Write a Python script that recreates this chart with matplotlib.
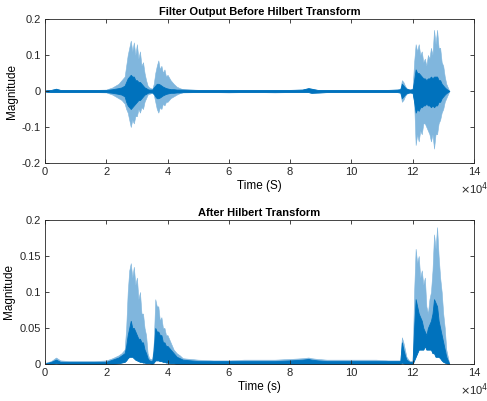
import matplotlib
matplotlib.use("Agg")
import matplotlib.pyplot as plt
import numpy as np

# sample positions (thousands of samples), shared by both panels
t_k = [0.3, 2, 3.6, 5, 8, 12, 16, 20, 22, 24,
       25, 26, 26.5, 27, 27.5, 28, 28.5, 29, 29.5, 30,
       30.5, 31, 31.5, 32, 32.5, 33, 33.5, 34, 35, 35.5,
       36, 36.5, 37, 37.5, 38, 38.5, 39, 39.5, 40, 41,
       42, 43, 44, 45, 50, 55, 60, 65, 70, 75,
       80, 84, 86, 87, 89, 92, 96, 100, 104, 108,
       112, 115, 116, 116.5, 117, 117.5, 118, 119, 120, 120.5,
       121, 121.5, 122, 122.5, 123, 123.5, 124, 124.5, 125, 125.5,
       126, 126.5, 127, 127.5, 128, 128.5, 129, 129.5, 130, 130.5,
       131, 131.5, 132]

# filter output: outer (light) and dense core (dark) envelopes
filt_outer_hi = [0.002, 0.003, 0.007, 0.003, 0.003, 0.003, 0.003, 0.004, 0.01, 0.02,
                 0.03, 0.04, 0.07, 0.10, 0.12, 0.14, 0.11, 0.135, 0.10, 0.13,
                 0.09, 0.11, 0.07, 0.08, 0.05, 0.03, 0.015, 0.01, 0.006, 0.02,
                 0.05, 0.07, 0.085, 0.06, 0.07, 0.05, 0.06, 0.04, 0.045, 0.03,
                 0.02, 0.012, 0.008, 0.005, 0.003, 0.003, 0.003, 0.003, 0.003, 0.003,
                 0.003, 0.004, 0.008, 0.007, 0.003, 0.003, 0.003, 0.003, 0.003, 0.003,
                 0.003, 0.004, 0.005, 0.03, 0.025, 0.015, 0.008, 0.004, 0.005, 0.08,
                 0.13, 0.11, 0.13, 0.10, 0.11, 0.08, 0.09, 0.07, 0.10, 0.09,
                 0.12, 0.10, 0.17, 0.13, 0.17, 0.12, 0.12, 0.08, 0.07, 0.04,
                 0.02, 0.01, 0.0]
filt_outer_lo = [-0.002, -0.003, -0.003, -0.003, -0.003, -0.003, -0.003, -0.004, -0.01, -0.02,
                 -0.025, -0.035, -0.05, -0.06, -0.08, -0.10, -0.08, -0.09, -0.07, -0.07,
                 -0.05, -0.06, -0.045, -0.05, -0.03, -0.02, -0.01, -0.008, -0.005, -0.01,
                 -0.03, -0.05, -0.06, -0.045, -0.05, -0.035, -0.04, -0.03, -0.03, -0.02,
                 -0.015, -0.01, -0.006, -0.004, -0.003, -0.003, -0.004, -0.003, -0.003, -0.004,
                 -0.003, -0.003, -0.003, -0.006, -0.005, -0.003, -0.003, -0.003, -0.003, -0.003,
                 -0.003, -0.003, -0.005, -0.03, -0.025, -0.015, -0.008, -0.004, -0.005, -0.03,
                 -0.15, -0.12, -0.14, -0.11, -0.12, -0.09, -0.09, -0.10, -0.11, -0.12,
                 -0.14, -0.12, -0.16, -0.12, -0.12, -0.09, -0.08, -0.06, -0.05, -0.03,
                 -0.02, -0.01, 0.0]
filt_core_hi = [0.002, 0.003, 0.006, 0.003, 0.003, 0.003, 0.003, 0.003, 0.005, 0.008,
                0.01, 0.015, 0.025, 0.035, 0.04, 0.045, 0.04, 0.04, 0.03, 0.03,
                0.025, 0.025, 0.02, 0.015, 0.01, 0.008, 0.005, 0.004, 0.004, 0.01,
                0.015, 0.02, 0.02, 0.018, 0.015, 0.012, 0.01, 0.008, 0.007, 0.005,
                0.005, 0.004, 0.004, 0.004, 0.003, 0.003, 0.003, 0.003, 0.003, 0.003,
                0.003, 0.004, 0.008, 0.006, 0.003, 0.003, 0.003, 0.003, 0.003, 0.003,
                0.003, 0.004, 0.005, 0.02, 0.015, 0.01, 0.006, 0.004, 0.005, 0.03,
                0.06, 0.05, 0.05, 0.045, 0.04, 0.035, 0.035, 0.03, 0.035, 0.035,
                0.04, 0.035, 0.04, 0.04, 0.04, 0.03, 0.03, 0.02, 0.015, 0.01,
                0.006, 0.003, 0.0]
filt_core_lo = [-0.002, -0.003, -0.003, -0.003, -0.003, -0.003, -0.003, -0.003, -0.005, -0.008,
                -0.01, -0.015, -0.03, -0.04, -0.045, -0.05, -0.045, -0.04, -0.035, -0.03,
                -0.025, -0.025, -0.02, -0.015, -0.01, -0.008, -0.005, -0.004, -0.004, -0.008,
                -0.015, -0.02, -0.02, -0.018, -0.015, -0.012, -0.01, -0.008, -0.007, -0.005,
                -0.005, -0.004, -0.004, -0.003, -0.003, -0.003, -0.003, -0.003, -0.003, -0.003,
                -0.003, -0.003, -0.003, -0.005, -0.004, -0.003, -0.003, -0.003, -0.003, -0.003,
                -0.003, -0.003, -0.004, -0.02, -0.015, -0.01, -0.006, -0.004, -0.005, -0.03,
                -0.06, -0.05, -0.055, -0.045, -0.045, -0.04, -0.04, -0.035, -0.04, -0.04,
                -0.045, -0.04, -0.045, -0.04, -0.04, -0.03, -0.03, -0.02, -0.015, -0.01,
                -0.006, -0.003, 0.0]

# hilbert envelope: outer peak, dense core top and floor
env_outer = [0.002, 0.004, 0.009, 0.005, 0.004, 0.004, 0.004, 0.005, 0.008, 0.012,
             0.015, 0.02, 0.05, 0.10, 0.13, 0.14, 0.12, 0.135, 0.11, 0.12,
             0.09, 0.10, 0.07, 0.07, 0.05, 0.04, 0.015, 0.008, 0.006, 0.03,
             0.09, 0.08, 0.08, 0.06, 0.065, 0.05, 0.05, 0.04, 0.04, 0.03,
             0.02, 0.015, 0.012, 0.008, 0.006, 0.005, 0.005, 0.006, 0.006, 0.006,
             0.007, 0.008, 0.009, 0.008, 0.007, 0.006, 0.006, 0.006, 0.006, 0.006,
             0.005, 0.005, 0.005, 0.037, 0.03, 0.02, 0.01, 0.004, 0.004, 0.10,
             0.16, 0.14, 0.15, 0.12, 0.13, 0.11, 0.12, 0.08, 0.07, 0.09,
             0.10, 0.13, 0.18, 0.16, 0.19, 0.15, 0.12, 0.10, 0.07, 0.05,
             0.02, 0.01, 0.0]
env_core = [0.001, 0.003, 0.006, 0.003, 0.003, 0.003, 0.003, 0.003, 0.006, 0.009,
            0.012, 0.015, 0.025, 0.04, 0.05, 0.06, 0.05, 0.05, 0.045, 0.04,
            0.035, 0.035, 0.03, 0.03, 0.02, 0.015, 0.008, 0.005, 0.004, 0.02,
            0.05, 0.045, 0.045, 0.04, 0.04, 0.03, 0.03, 0.025, 0.025, 0.02,
            0.015, 0.01, 0.008, 0.006, 0.004, 0.004, 0.004, 0.004, 0.004, 0.004,
            0.005, 0.006, 0.007, 0.006, 0.005, 0.004, 0.004, 0.004, 0.004, 0.004,
            0.004, 0.004, 0.004, 0.03, 0.02, 0.012, 0.006, 0.003, 0.003, 0.05,
            0.09, 0.08, 0.07, 0.065, 0.06, 0.05, 0.045, 0.04, 0.05, 0.055,
            0.06, 0.07, 0.09, 0.085, 0.08, 0.06, 0.05, 0.04, 0.03, 0.02,
            0.01, 0.005, 0.0]
env_floor = [0.0, 0.0, 0.001, 0.0, 0.0, 0.0, 0.0, 0.0, 0.0, 0.001,
             0.002, 0.003, 0.005, 0.008, 0.01, 0.01, 0.01, 0.008, 0.006, 0.005,
             0.004, 0.003, 0.003, 0.002, 0.002, 0.001, 0.001, 0.001, 0.0, 0.002,
             0.005, 0.005, 0.005, 0.004, 0.004, 0.003, 0.003, 0.002, 0.002, 0.001,
             0.001, 0.0, 0.0, 0.0, 0.0, 0.0, 0.0, 0.0, 0.0, 0.0,
             0.0, 0.0, 0.0, 0.0, 0.0, 0.0, 0.0, 0.0, 0.0, 0.0,
             0.0, 0.0, 0.0, 0.002, 0.001, 0.0, 0.0, 0.0, 0.0, 0.005,
             0.01, 0.015, 0.02, 0.02, 0.02, 0.02, 0.025, 0.02, 0.02, 0.02,
             0.02, 0.015, 0.015, 0.01, 0.01, 0.01, 0.008, 0.005, 0.003, 0.002,
             0.001, 0.0, 0.0]

x_ticks = [0, 2, 4, 6, 8, 10, 12, 14]
top_yticks = [-0.2, -0.1, 0, 0.1, 0.2]
bot_yticks = [0, 0.05, 0.1, 0.15, 0.2]

BLUE = "#0072BD"
LIGHT = "#80B6DD"
AXC = "#262626"

plt.rcParams["font.family"] = ["Liberation Sans", "DejaVu Sans"]

t = np.array(t_k) * 1000.0

fig = plt.figure(figsize=(4.87, 4.01), dpi=100)
ax1 = fig.add_axes([0.0924, 0.5935, 0.8806, 0.3591])
ax2 = fig.add_axes([0.0924, 0.0923, 0.8806, 0.3591])

ax1.fill_between(t, filt_outer_lo, filt_outer_hi, color=LIGHT, lw=0.4, edgecolor=LIGHT)
ax1.fill_between(t, filt_core_lo, filt_core_hi, color=BLUE, lw=0.6, edgecolor=BLUE)
ax1.set_ylim(-0.2, 0.2)
ax1.set_yticks(top_yticks)
ax1.set_title("Filter Output Before Hilbert Transform", fontsize=8, fontweight="bold", pad=3)
ax1.set_xlabel("Time (S)", fontsize=8.5, labelpad=2)

ax2.fill_between(t, env_floor, env_outer, color=LIGHT, lw=0.4, edgecolor=LIGHT)
ax2.fill_between(t, env_floor, env_core, color=BLUE, lw=0.6, edgecolor=BLUE)
ax2.set_ylim(0, 0.2)
ax2.set_yticks(bot_yticks)
ax2.set_title("After Hilbert Transform", fontsize=8, fontweight="bold", pad=3)
ax2.set_xlabel("Time (s)", fontsize=8.5, labelpad=2)

for ax, yt in ((ax1, top_yticks), (ax2, bot_yticks)):
    ax.set_xlim(0, 14e4)
    ax.set_xticks([v * 1e4 for v in x_ticks])
    ax.set_xticklabels([str(v) for v in x_ticks])
    ax.set_yticklabels(["%g" % v for v in yt])
    ax.set_ylabel("Magnitude", fontsize=8.5, labelpad=3)
    ax.tick_params(direction="in", length=3, width=0.6, labelsize=8, colors=AXC,
                   top=True, right=True, pad=3)
    for sp in ax.spines.values():
        sp.set_color(AXC)
        sp.set_linewidth(0.6)
    ax.text(0.967, -0.18, r"$\times$10$^4$", transform=ax.transAxes,
            fontsize=8, color=AXC, ha="left", va="center")

fig.savefig("out.png", dpi=100, facecolor="white")
